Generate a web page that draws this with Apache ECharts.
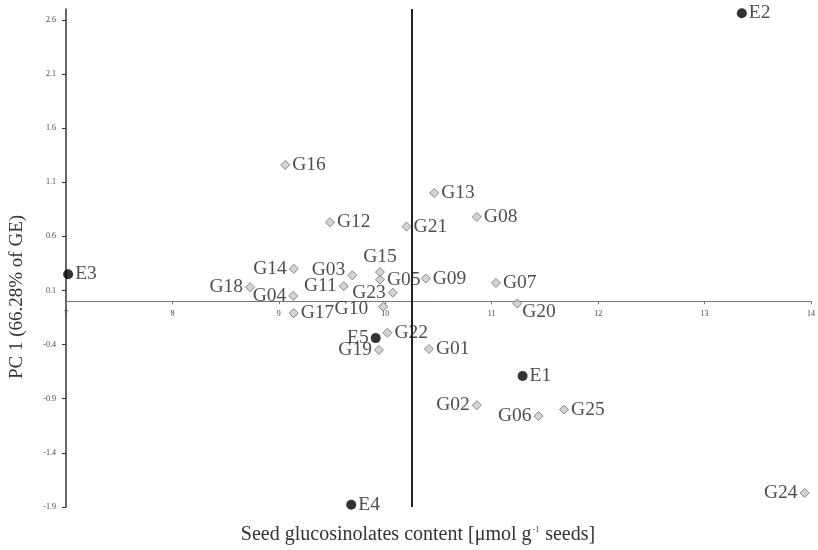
<!DOCTYPE html>
<html>
<head>
<meta charset="utf-8">
<script src="https://cdn.jsdelivr.net/npm/echarts@6/dist/echarts.min.js"></script>
<style>html,body{margin:0;padding:0;background:#fff}#c{width:818px;height:550px}</style>
</head>
<body>
<div id="c"></div>
<script>
// Environments
const envNames = ['E1', 'E2', 'E3', 'E4', 'E5'];
const envX = [11.29, 13.35, 7.02, 9.68, 9.91];
const envY = [-0.69, 2.66, 0.25, -1.88, -0.34];
// Genotypes
const genNames = ['G01','G02','G03','G04','G05','G06','G07','G08','G09','G10','G11','G12','G13','G14','G15','G16','G17','G18','G19','G20','G21','G22','G23','G24','G25'];
const genX = [10.41, 10.86, 9.69, 9.135, 9.95, 11.44, 11.04, 10.86, 10.38, 9.98, 9.61, 9.48, 10.46, 9.14, 9.95, 9.06, 9.14, 8.73, 9.94, 11.24, 10.20, 10.02, 10.07, 13.94, 11.68];
const genY = [-0.44, -0.96, 0.24, 0.05, 0.20, -1.06, 0.17, 0.78, 0.21, -0.05, 0.14, 0.73, 1.00, 0.30, 0.27, 1.26, -0.11, 0.13, -0.45, -0.02, 0.69, -0.29, 0.08, -1.77, -1.00];
// Mean of seed glucosinolates content
const meanX = 10.25;
// Axis ticks
const xTicks = [7, 8, 9, 10, 11, 12, 13, 14];
const yTicks = [-1.9, -1.4, -0.9, -0.4, 0.1, 0.6, 1.1, 1.6, 2.1, 2.6];
const yMax = 2.7;

// label placement (style only)
const labelPlace = {
  G02: {position: 'left'}, G03: {position: 'left', offset: [0, -5]}, G04: {position: 'left'},
  G06: {position: 'left'}, G10: {position: 'left', offset: [-8, 2]}, G11: {position: 'left'},
  G14: {position: 'left'}, G18: {position: 'left'}, G19: {position: 'left'},
  G23: {position: 'left'}, G24: {position: 'left'}, E5: {position: 'left'},
  G15: {position: 'top', offset: [0, 2]}, G20: {position: 'right', offset: [-2, 8]}
};
const font = "'Liberation Serif', 'Times New Roman', serif";

function mk(names, xs, ys) {
  return names.map((n, i) => {
    const d = {name: n, value: [xs[i], ys[i]]};
    if (labelPlace[n]) d.label = Object.assign({}, labelPlace[n]);
    return d;
  });
}

const chart = echarts.init(document.getElementById('c'));
const option = {
  backgroundColor: '#fff',
  animation: false,
  grid: {left: 66, right: 6, top: 9, bottom: 43},
  xAxis: {
    type: 'value', min: xTicks[0], max: xTicks[xTicks.length - 1], interval: 1,
    offset: 0,
    axisLine: {onZero: false, lineStyle: {color: '#777', width: 1}},
    axisTick: {show: true, length: 3, lineStyle: {color: '#777'}},
    axisLabel: {fontSize: 8, color: '#444', margin: 9, fontFamily: font, showMinLabel: true, showMaxLabel: true, hideOverlap: false},
    splitLine: {show: false}
  },
  yAxis: {
    type: 'value', min: yTicks[0], max: yMax, interval: 0.5,
    axisLine: {show: true, onZero: false, lineStyle: {color: '#333', width: 1.5}},
    axisTick: {show: true, length: 4, lineStyle: {color: '#333'}},
    axisLabel: {fontSize: 8, color: '#444', margin: 10, fontFamily: font, showMaxLabel: false,
      formatter: v => v.toFixed(1)},
    splitLine: {show: false}
  },
  graphic: [
    {type: 'text', x: 17, y: 297, rotation: Math.PI / 2,
      style: {text: 'PC 1 (66.28% of GE)', font: "19px " + font, fill: '#333', align: 'center', verticalAlign: 'middle'}},
    {type: 'text', x: 418, y: 535,
      style: {text: 'Seed glucosinolates content [μmol g{sup|-1} seeds]', font: "20px " + font, fill: '#333',
        rich: {sup: {fontSize: 8, fontFamily: font, padding: [0, 1, 11, 1], fill: '#333'}},
        align: 'center', verticalAlign: 'middle'}}
  ],
  series: [
    {
      type: 'scatter', name: 'Genotypes', symbol: 'diamond', symbolSize: 9,
      itemStyle: {color: '#c9c9c9', borderColor: '#6e6e6e', borderWidth: 1},
      label: {show: true, position: 'right', distance: 2, formatter: '{b}', fontSize: 19.5, fontFamily: font, color: '#222'},
      data: mk(genNames, genX, genY),
      markLine: {
        silent: true, symbol: 'none', label: {show: false},
        lineStyle: {color: '#222', width: 2, type: 'solid'},
        data: [{xAxis: meanX}]
      },
      z: 3
    },
    {
      type: 'scatter', name: 'Environments', symbol: 'circle', symbolSize: 10,
      itemStyle: {color: '#000'},
      label: {show: true, position: 'right', distance: 2, formatter: '{b}', fontSize: 19.5, fontFamily: font, color: '#222'},
      data: mk(envNames, envX, envY),
      z: 4
    }
  ]
};
chart.setOption(option);
// move the x axis so it crosses the y axis at zero
const pZero = chart.convertToPixel({yAxisIndex: 0}, 0);
const pMin = chart.convertToPixel({yAxisIndex: 0}, yTicks[0]);
chart.setOption({xAxis: {offset: -(pMin - pZero)}});
</script>
</body>
</html>
